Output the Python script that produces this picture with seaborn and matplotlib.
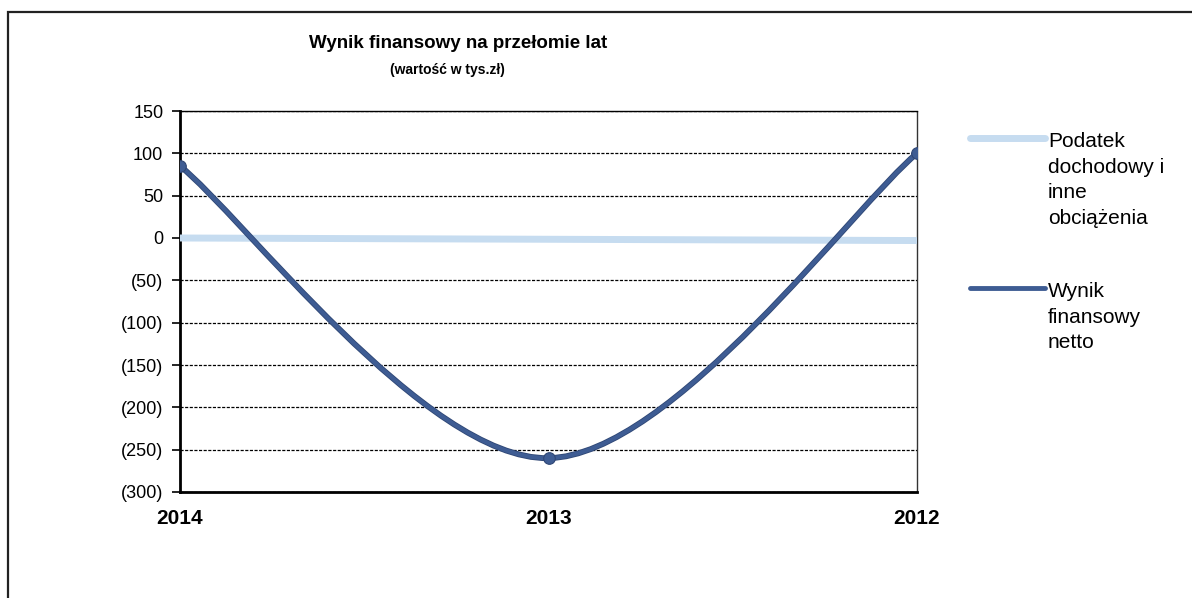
import numpy as np
import matplotlib
matplotlib.use("Agg")
import matplotlib.pyplot as plt
import seaborn as sns
from matplotlib.path import Path
from matplotlib.patches import PathPatch, Rectangle
from matplotlib.lines import Line2D
from matplotlib.ticker import FuncFormatter, MultipleLocator

# data (values in tys. zł)
years = ["2014", "2013", "2012"]
podatek = [0, -1.5, -3]
wynik_netto = [85, -260, 100]
series_names = ["Podatek\ndochodowy i\ninne\nobciążenia", "Wynik\nfinansowy\nnetto"]

light_blue = "#c6dcf0"
dark_blue = "#3e5c93"

sns.set_style("white")
plt.rcParams["font.family"] = ["Liberation Sans", "DejaVu Sans"]
plt.rcParams["text.color"] = "black"
plt.rcParams["xtick.color"] = "black"
plt.rcParams["ytick.color"] = "black"

fig = plt.figure(figsize=(11.92, 5.98), dpi=100)
ax = fig.add_axes([180 / 1192, 1 - 492 / 598, (917 - 180) / 1192, (492 - 111) / 598])

pos = np.arange(len(years))

# light series, straight line
sns.lineplot(x=pos, y=podatek, ax=ax, color=light_blue, linewidth=5,
             solid_capstyle="round", zorder=3)

# smoothed dark line (Excel style bezier through the points)
pts = np.column_stack([pos, wynik_netto]).astype(float)
n = len(pts)
verts = [pts[0]]
codes = [Path.MOVETO]
for i in range(n - 1):
    p_prev = pts[max(i - 1, 0)]
    p0 = pts[i]
    p1 = pts[i + 1]
    p_next = pts[min(i + 2, n - 1)]
    c1 = p0 + (p1 - p_prev) / 6
    c2 = p1 - (p_next - p0) / 6
    verts += [c1, c2, p1]
    codes += [Path.CURVE4] * 3
ax.add_patch(PathPatch(Path(verts, codes), facecolor="none", edgecolor="#2f4775",
                       linewidth=4.2, zorder=4, capstyle="round"))
ax.add_patch(PathPatch(Path(verts, codes), facecolor="none", edgecolor=dark_blue,
                       linewidth=3.0, zorder=5, capstyle="round"))
sns.scatterplot(x=pos, y=wynik_netto, ax=ax, color=dark_blue, s=70,
                edgecolor="#2f4775", linewidth=0.8, zorder=6)

ax.set_xlim(0, 2)
ax.set_ylim(-300, 150)
ax.yaxis.set_major_locator(MultipleLocator(50))
ax.yaxis.set_major_formatter(FuncFormatter(lambda v, p: f"({abs(int(v))})" if v < 0 else f"{int(v)}"))
ax.set_xticks(pos)
ax.set_xticklabels(years, fontsize=15, fontweight="bold")
ax.tick_params(axis="x", length=0, pad=12)
ax.tick_params(axis="y", left=True, length=6, width=1.2, direction="out", pad=6,
               labelsize=13, color="black")

ax.grid(axis="y", color="black", linestyle=(0, (2.5, 1.2)), linewidth=0.9)
ax.grid(axis="x", visible=False)
ax.set_axisbelow(True)

for side in ["left", "bottom"]:
    ax.spines[side].set_color("black")
    ax.spines[side].set_linewidth(2)
ax.spines["right"].set_color("#333333")
ax.spines["right"].set_linestyle((0, (1.5, 1)))
ax.spines["right"].set_linewidth(1)
ax.spines["top"].set_color("black")
ax.spines["top"].set_linewidth(1)
ax.set_xlabel("")
ax.set_ylabel("")

# title
fig.text(458 / 1192, 1 - 43 / 598, "Wynik finansowy na przełomie lat", ha="center", va="center",
         fontsize=13.5, fontweight="bold")
fig.text(447 / 1192, 1 - 70 / 598, "(wartość w tys.zł)", ha="center", va="center",
         fontsize=10, fontweight="bold")

# legend on the right, handle next to first line of each label
leg_items = [(light_blue, 5, 138, series_names[0]), (dark_blue, 3.5, 288, series_names[1])]
for col, lw, yy, lab in leg_items:
    fig.add_artist(Line2D([970 / 1192, 1045 / 1192], [1 - yy / 598, 1 - yy / 598],
                          color=col, linewidth=lw, solid_capstyle="round"))
    fig.text(1048 / 1192, 1 - (yy - 6) / 598, lab, ha="left", va="top",
             fontsize=15, linespacing=1.45)

# outer chart frame
fig.add_artist(Rectangle((8 / 1192, -0.02), 1.05, 1 - 12 / 598 + 0.02, transform=fig.transFigure,
                         fill=False, edgecolor="#222222", linewidth=1.6))

fig.savefig("out.png", dpi=100, facecolor="white")
